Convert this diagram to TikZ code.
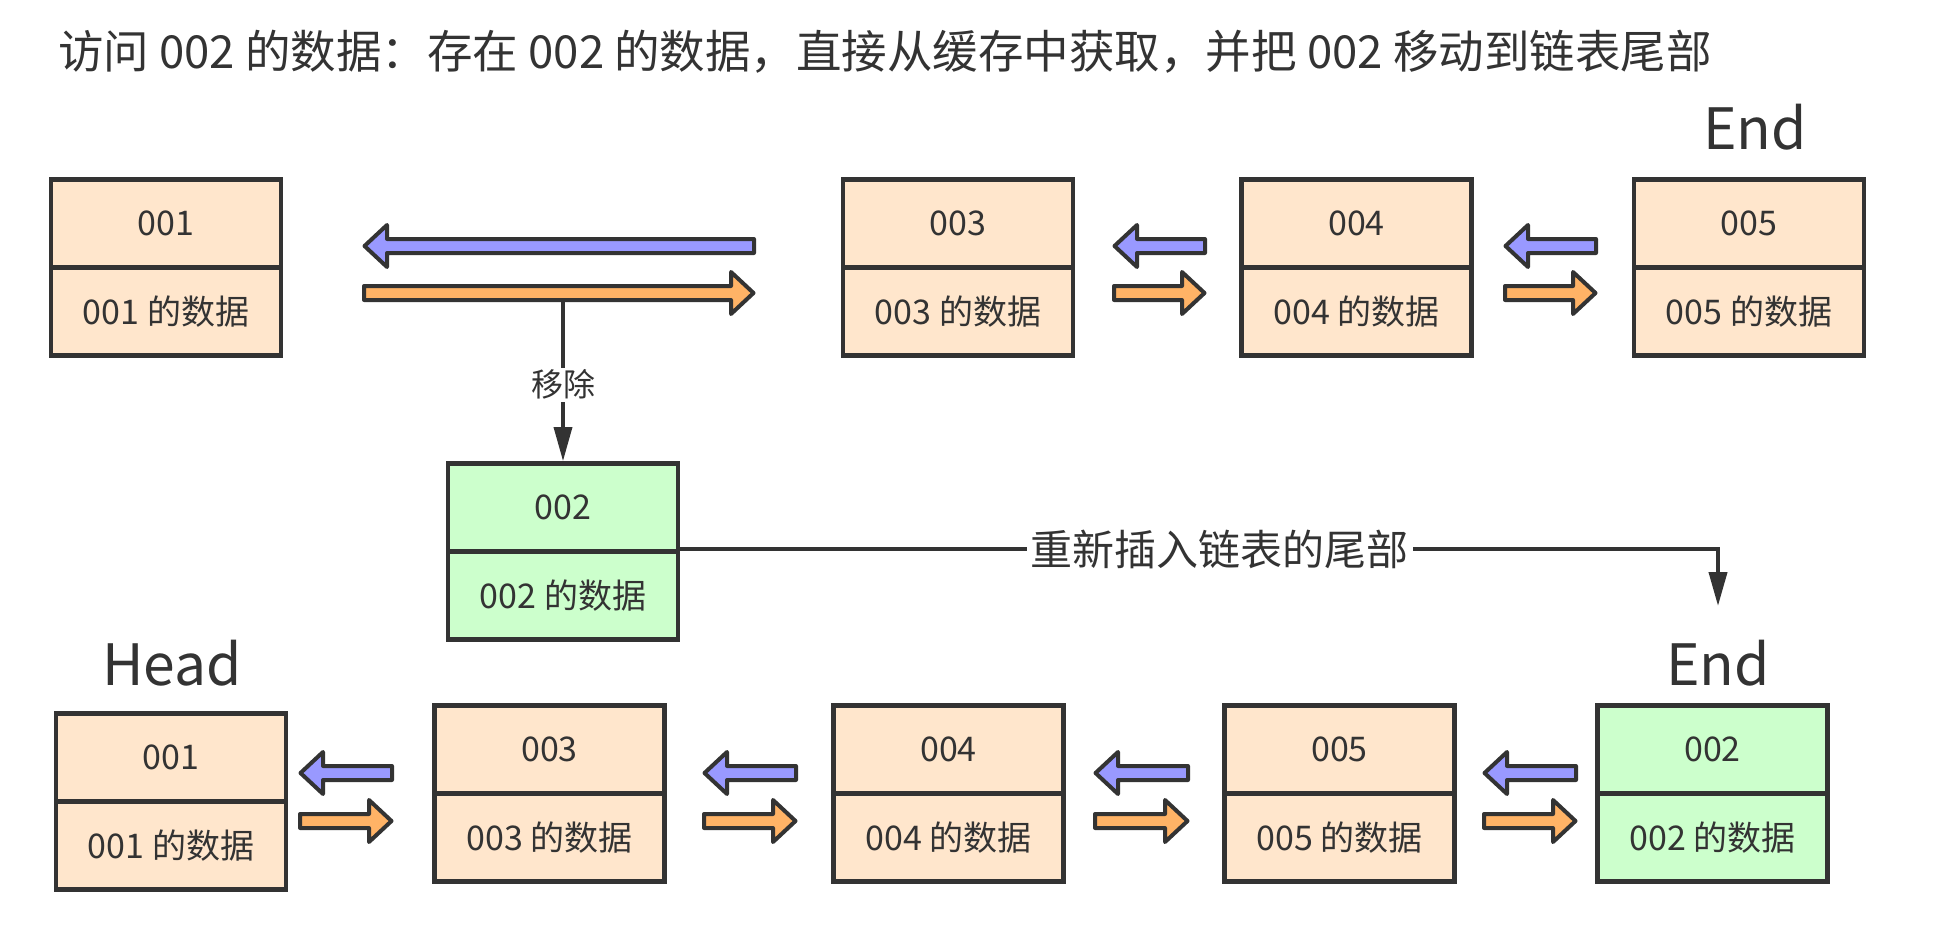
\documentclass[tikz,border=0pt]{standalone}
\usepackage{fontspec}
\setmainfont{Noto Sans CJK SC}
\usetikzlibrary{arrows.meta}
\definecolor{ink}{HTML}{333333}
\definecolor{peach}{HTML}{FFE6CC}
\definecolor{mint}{HTML}{CCFFCC}
\definecolor{lav}{HTML}{9999FF}
\definecolor{apricot}{HTML}{FFB366}
\tikzset{
  cell/.style={draw=ink, line width=4.8pt, minimum width=230pt, minimum height=88pt,
    inner sep=0pt, text=ink, font=\fontsize{34}{34}\selectfont, anchor=center},
  fatarrow/.style={draw=ink, line width=4pt, line join=round},
  conn/.style={draw=ink, line width=3.5pt, -{Triangle[length=34pt,width=18pt]}},
  big/.style={text=ink, font=\fontsize{57}{57}\selectfont, inner sep=0pt},
  tag/.style={fill=white, text=ink, inner sep=2pt},
}
% box: name, centre x, top y (path), top text, bottom text, fill
\newcommand\llbox[6]{%
  \node[cell, fill=#6] (#1t) at (#2, {#3+44}) {#4};
  \node[cell, fill=#6] (#1b) at (#2, {#3+132}) {#5};}
% fat arrow pointing left: tip x, tail x, y, fill
\newcommand\fatL[4]{%
  \filldraw[fatarrow, fill=#4] ({#1+2.5},#3) -- ({#1+25},{#3-21}) -- ({#1+25},{#3-7})
    -- ({#2-2},{#3-7}) -- ({#2-2},{#3+7}) -- ({#1+25},{#3+7}) -- ({#1+25},{#3+21}) -- cycle;}
% fat arrow pointing right: tail x, tip x, y, fill
\newcommand\fatR[4]{%
  \filldraw[fatarrow, fill=#4] ({#2-2.5},#3) -- ({#2-25},{#3-21}) -- ({#2-25},{#3-7})
    -- ({#1+2},{#3-7}) -- ({#1+2},{#3+7}) -- ({#2-25},{#3+7}) -- ({#2-25},{#3+21}) -- cycle;}
\begin{document}
\begin{tikzpicture}[x=1pt,y=-1pt]
\useasboundingbox[fill=white] (0,0) rectangle (1938,928);

\node[anchor=west, text=ink, font=\fontsize{45.5}{45.5}\selectfont, inner sep=0pt] (title) at (58,52)
  {访问 002 的数据：存在 002 的数据，直接从缓存中获取，并把 002 移动到链表尾部};

% top row
\node[big] (endtop) at (1755,127) {End};
\llbox{a001}{166}{179.5}{001}{001 的数据}{peach}
\llbox{a003}{958}{179.5}{003}{003 的数据}{peach}
\llbox{a004}{1356.5}{179.5}{004}{004 的数据}{peach}
\llbox{a005}{1749}{179.5}{005}{005 的数据}{peach}

\fatL{362}{756}{246}{lav}
\fatR{362}{756}{293}{apricot}
\fatL{1112}{1207}{246}{lav}
\fatR{1112}{1207}{293}{apricot}
\fatL{1503}{1598}{246}{lav}
\fatR{1503}{1598}{293}{apricot}

% removed node
\llbox{m002}{563}{463.5}{002}{002 的数据}{mint}
\coordinate (rmv) at (563,302);
\draw[conn] (rmv) -- (m002t.north) node[tag, pos=0.52, font=\fontsize{32}{32}\selectfont] {移除};

\coordinate (ins) at (1718,606);
\draw[conn, line width=4pt] (m002b.north east) -| (ins)
  node[tag, pos=0.26, font=\fontsize{42}{42}\selectfont, inner sep=4pt] {重新插入链表的尾部};

% bottom row
\node[big] (head) at (172,663) {Head};
\node[big] (endbot) at (1718,663) {End};
\llbox{b001}{171}{713.25}{001}{001 的数据}{peach}
\llbox{b003}{549.5}{705.25}{003}{003 的数据}{peach}
\llbox{b004}{948.5}{705.25}{004}{004 的数据}{peach}
\llbox{b005}{1339.5}{705.25}{005}{005 的数据}{peach}
\llbox{b002}{1712.5}{705.25}{002}{002 的数据}{mint}

\fatL{298}{394}{773}{lav}
\fatR{298}{394}{821}{apricot}
\fatL{702}{798}{773}{lav}
\fatR{702}{798}{821}{apricot}
\fatL{1093}{1190}{773}{lav}
\fatR{1093}{1190}{821}{apricot}
\fatL{1482}{1578}{773}{lav}
\fatR{1482}{1578}{821}{apricot}
\end{tikzpicture}
\end{document}
